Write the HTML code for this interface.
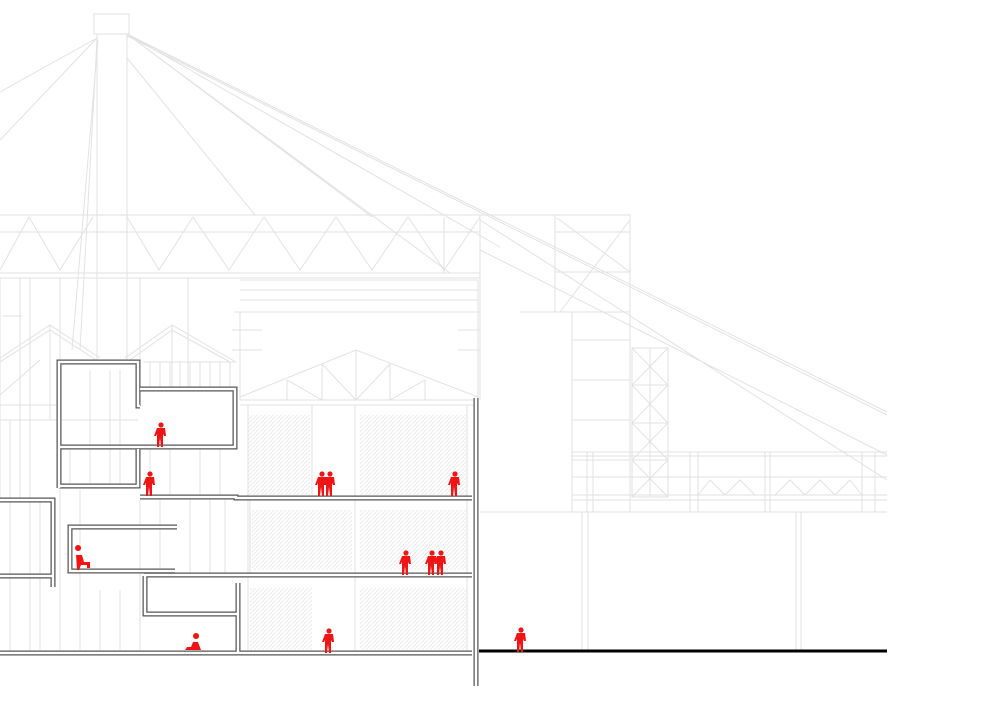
<!DOCTYPE html>
<html><head><meta charset="utf-8"><style>
html,body{margin:0;padding:0;background:#fff;width:1000px;height:707px;overflow:hidden}
svg{display:block}
</style></head><body>
<svg width="1000" height="707" viewBox="0 0 1000 707" xmlns="http://www.w3.org/2000/svg">
<defs>
<pattern id="hatch" width="4" height="4" patternUnits="userSpaceOnUse">
<rect width="4" height="4" fill="#fff"/><path d="M0 4L4 0" stroke="#ececec" stroke-width="1"/>
</pattern>
<g id="p"><circle cx="0" cy="-20" r="2.6"/><path d="M-4 -17h8l1 8h-2l-1 -2v13h-2l-1-9l-1 9h-2v-13l-1 2h-2z"/></g>
</defs>
<g stroke="#e2e2e2" stroke-width="1" fill="none">
<rect x="94" y="14" width="35" height="20"/>
<rect x="97" y="34" width="30" height="330"/>
<path d="M127 34L500 220M127 34L500 247M127 36L887 415M130 36L887 412M127 58L255 215M127 34L372 217M127 34L450 273M97 38L0 92M97 38L0 140M97 40L80 350M98 40L72 350"/>
<path d="M480 220L887 480M480 250L887 455"/>
<path d="M0 215H480M0 232H480M0 273H480M0 278H480"/>
<path d="M0 270L29 217L60 270L93 217M127 217L159 270L193 217L229 270L264 217L300 270L336 217L372 270L408 217L444 270L480 217"/>
<path d="M444 217V273M480 215V400"/>
<path d="M0 278V500M20 278V500M30 278V500M60 278V360M140 278V390M188 278V390M3 316H22"/>
<path d="M0 358L50 325L100 358M0 362L50 330L96 360M125 358L172 325L236 362M130 360L172 330L230 362"/>
<path d="M50 325V420M172 325V390M0 395L40 360"/>
<path d="M143 362H236M150 362V390M160 362V390M170 362V390M180 362V390M190 362V390M200 362V390M210 362V390M220 362V390M230 362V390"/>
<path d="M0 405H57M0 420H57M10 420V650M30 420V650M40 500V650M60 490V650M80 490V650M100 590V650M120 590V650M140 500V650M160 500V573M190 500V573M210 500V573M225 500V573M250 500V573"/>
<path d="M70 450V486M90 370V486M110 370V486M120 370V486M150 448V495M170 448V495M200 448V495M220 448V495M58 420H138"/>
<path d="M240 280H478M240 290H478M240 300H478M234 312H480M240 312V400M478 280V400M232 330H262M458 330H480M232 350H262M458 350H480"/>
<path d="M480 215H630V312H572M555 215V312M555 232H630M555 272H630M557 218L630 272M630 220L560 312"/>
<path d="M520 312H572V512H630V312M572 340H630M572 380H630M572 420H630M572 460H630"/>
<path d="M632 348H668V497H632ZM632 385H668M632 423H668M632 460H668M632 348L668 385L632 423L668 460L632 497M668 348L632 385L668 423L632 460L668 497M650 348V497"/>
<path d="M572 452H887M572 456H887M572 477H887M572 495H887M572 500H887M572 512H887M587 452V512M593 452V512M690 452V512M698 452V512M765 452V512M770 452V512M862 452V512M875 452V512"/>
<path d="M698 495L710 480L725 495L740 480L755 495M775 495L790 480L805 495L820 480L835 495L850 480L862 495"/>
<path d="M480 512H887M582 512V650M588 512V650M796 512V650M801 512V650"/>
<path d="M240 397L356 350L478 397M240 400H478M240 405H478M287 380V400M322 364V400M356 350V400M390 364V400M425 380V400M322 364L356 400L390 364M287 380L322 400M425 380L390 400"/>
</g>
<g fill="url(#hatch)">
<rect x="248" y="415" width="62" height="80"/><rect x="360" y="415" width="107" height="80"/>
<rect x="252" y="510" width="100" height="60"/><rect x="360" y="510" width="107" height="60"/>
<rect x="250" y="588" width="62" height="62"/><rect x="360" y="588" width="107" height="62"/>
</g>
<g stroke="#e2e2e2" fill="none"><path d="M355 405V650M312 405V495M248 405V650M467 405V650"/></g>
<g fill="none" stroke-linejoin="miter">
<g stroke="#555" stroke-width="5">
<path d="M59 488V362H138V406H140"/><path d="M140 389H235V447H59"/>
<path d="M59 486H138V449"/>
<path d="M140 497H236V498H472"/>
<path d="M0 500H53V587"/><path d="M0 576H53"/>
<path d="M177 527H70V571H175"/>
<path d="M144 575H472"/><path d="M145 576V614H238V583M238 600V652"/>
<path d="M0 653H472"/>
<path d="M476 398V686"/>
</g>
<g stroke="#fff" stroke-width="2.5">
<path d="M59 488V362H138V406H140"/><path d="M140 389H235V447H59"/>
<path d="M59 486H138V449"/>
<path d="M140 497H236V498H472"/>
<path d="M0 500H53V587"/><path d="M0 576H53"/>
<path d="M177 527H70V571H175"/>
<path d="M144 575H472"/><path d="M145 576V614H238V583M238 600V652"/>
<path d="M0 653H472"/>
<path d="M476 398V686"/>
</g>
</g>
<path d="M479 651H887" stroke="#000" stroke-width="3"/>
<g fill="#f01515">
<use href="#p" transform="translate(161,445)"/>
<use href="#p" transform="translate(150,494)"/>
<use href="#p" transform="translate(322,494)"/>
<use href="#p" transform="translate(330,494)"/>
<use href="#p" transform="translate(455,494)"/>
<use href="#p" transform="translate(406,573)"/>
<use href="#p" transform="translate(432,573)"/>
<use href="#p" transform="translate(441,573)"/>
<use href="#p" transform="translate(329,651)"/>
<use href="#p" transform="translate(521,650)"/>
<path d="M78 551a3 3 0 1 1 0.1 0zM76 555h6l2 7h6v6h-3v-3h-6l-2 5h-2z"/>
<path d="M196 639a3 3 0 1 1 0.1 0zM193 642h5l3 8h-16l2-3h4z"/>
</g>
</svg>
</body></html>
